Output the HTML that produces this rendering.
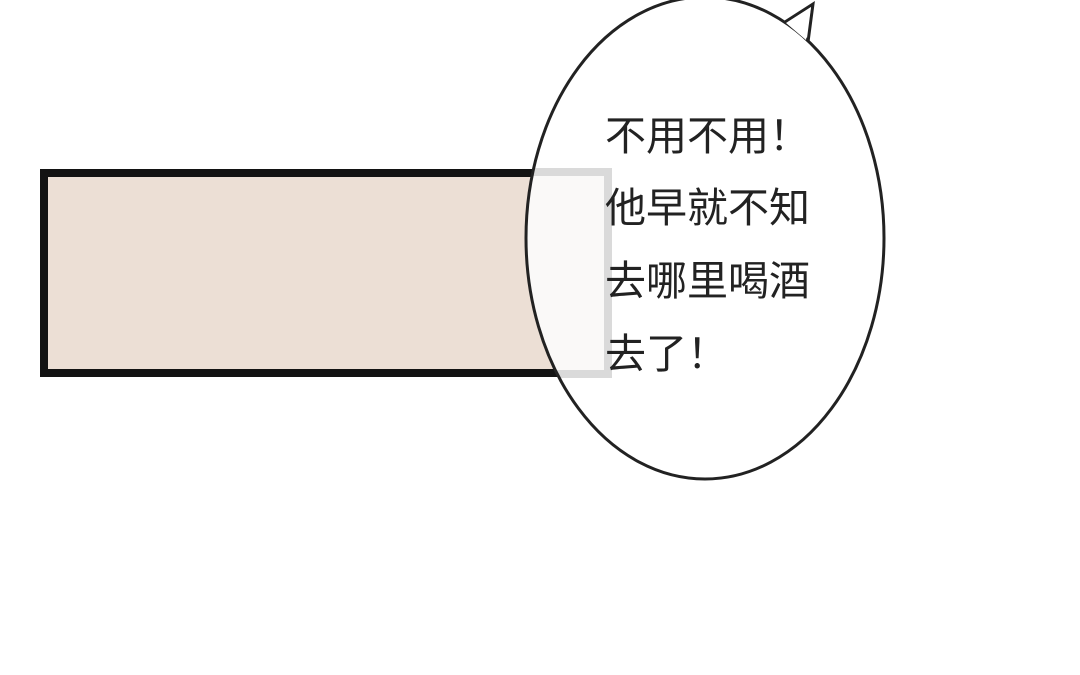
<!DOCTYPE html>
<html><head><meta charset="utf-8"><style>
html,body{margin:0;padding:0;background:#fff;width:1080px;height:675px;overflow:hidden}
svg{display:block}
text{font-family:"Noto Sans CJK SC",sans-serif;font-size:41px;fill:#222}
</style></head><body>
<svg width="1080" height="675" viewBox="0 0 1080 675">
<defs><clipPath id="c"><ellipse cx="705" cy="238" rx="179" ry="241"/></clipPath></defs>
<rect x="40" y="169" width="540" height="208" fill="#131313"/>
<rect x="48" y="177" width="540" height="192" fill="#ecdfd5"/>
<path d="M785,22 L813,4 L808,42 Z" fill="#fff" stroke="#222" stroke-width="3" stroke-linejoin="miter"/>
<ellipse cx="705" cy="238" rx="179" ry="241" fill="#fff"/>
<g clip-path="url(#c)">
<rect x="500" y="168" width="112" height="210" fill="#dadada"/>
<rect x="500" y="176" width="104" height="194" fill="#faf9f8"/>
</g>
<ellipse cx="705" cy="238" rx="179" ry="241" fill="none" stroke="#222" stroke-width="3"/>
<path d="M786,23 L811,7 L806,40" fill="#fff" stroke="none"/>
<text x="605" y="150">不用不用！</text>
<text x="605" y="222">他早就不知</text>
<text x="605" y="295">去哪里喝酒</text>
<text x="605" y="368">去了！</text>
</svg>
</body></html>
